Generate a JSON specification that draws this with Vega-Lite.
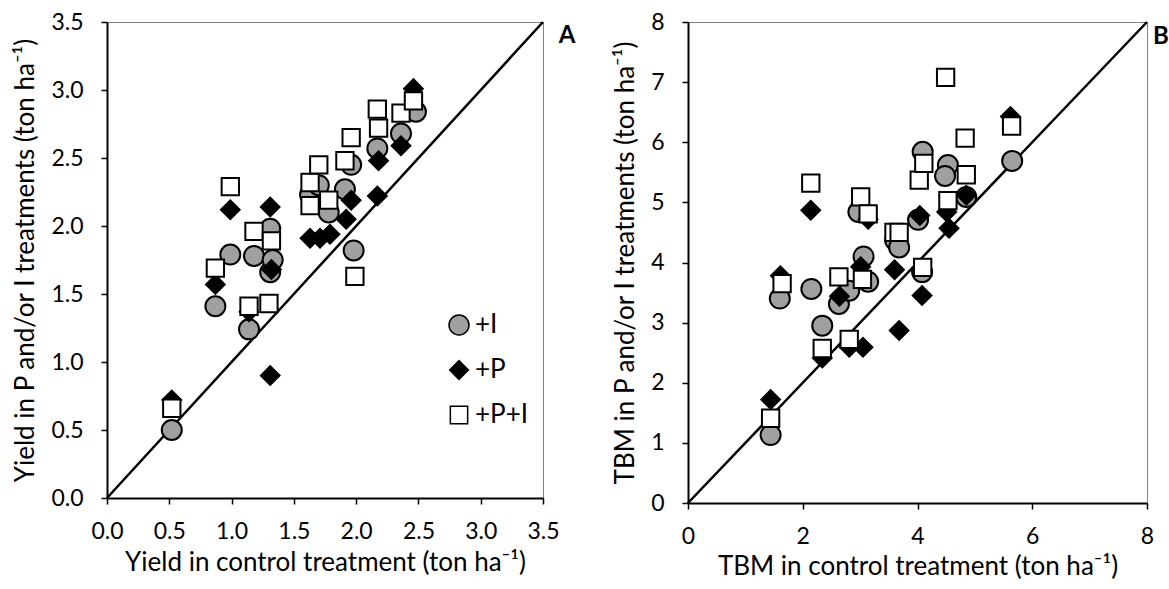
{
  "$schema": "https://vega.github.io/schema/vega-lite/v6.json",
  "background": "white",
  "padding": {"left": 12, "top": 10, "right": 5, "bottom": 0},
  "spacing": 36,
  "datasets": {
    "yield": [
      {"treatment": "+I", "control": 0.52, "treated": 0.50},
      {"treatment": "+I", "control": 0.87, "treated": 1.41},
      {"treatment": "+I", "control": 0.99, "treated": 1.79},
      {"treatment": "+I", "control": 1.14, "treated": 1.24},
      {"treatment": "+I", "control": 1.18, "treated": 1.78},
      {"treatment": "+I", "control": 1.31, "treated": 1.98},
      {"treatment": "+I", "control": 1.31, "treated": 1.66},
      {"treatment": "+I", "control": 1.33, "treated": 1.75},
      {"treatment": "+I", "control": 1.63, "treated": 2.23},
      {"treatment": "+I", "control": 1.70, "treated": 2.30},
      {"treatment": "+I", "control": 1.78, "treated": 2.10},
      {"treatment": "+I", "control": 1.91, "treated": 2.27},
      {"treatment": "+I", "control": 1.96, "treated": 2.45},
      {"treatment": "+I", "control": 1.98, "treated": 1.82},
      {"treatment": "+I", "control": 2.17, "treated": 2.57},
      {"treatment": "+I", "control": 2.36, "treated": 2.68},
      {"treatment": "+I", "control": 2.48, "treated": 2.84},
      {"treatment": "+P", "control": 0.52, "treated": 0.72},
      {"treatment": "+P", "control": 0.87, "treated": 1.57},
      {"treatment": "+P", "control": 0.99, "treated": 2.12},
      {"treatment": "+P", "control": 1.14, "treated": 1.37},
      {"treatment": "+P", "control": 1.31, "treated": 2.14},
      {"treatment": "+P", "control": 1.31, "treated": 0.90},
      {"treatment": "+P", "control": 1.32, "treated": 1.68},
      {"treatment": "+P", "control": 1.63, "treated": 1.91},
      {"treatment": "+P", "control": 1.71, "treated": 1.91},
      {"treatment": "+P", "control": 1.79, "treated": 1.94},
      {"treatment": "+P", "control": 1.92, "treated": 2.05},
      {"treatment": "+P", "control": 1.96, "treated": 2.19},
      {"treatment": "+P", "control": 2.17, "treated": 2.22},
      {"treatment": "+P", "control": 2.18, "treated": 2.48},
      {"treatment": "+P", "control": 2.36, "treated": 2.59},
      {"treatment": "+P", "control": 2.46, "treated": 3.01},
      {"treatment": "+P+I", "control": 0.52, "treated": 0.66},
      {"treatment": "+P+I", "control": 0.87, "treated": 1.69},
      {"treatment": "+P+I", "control": 0.99, "treated": 2.29},
      {"treatment": "+P+I", "control": 1.14, "treated": 1.41},
      {"treatment": "+P+I", "control": 1.18, "treated": 1.96},
      {"treatment": "+P+I", "control": 1.30, "treated": 1.43},
      {"treatment": "+P+I", "control": 1.32, "treated": 1.89},
      {"treatment": "+P+I", "control": 1.63, "treated": 2.32},
      {"treatment": "+P+I", "control": 1.63, "treated": 2.15},
      {"treatment": "+P+I", "control": 1.70, "treated": 2.45},
      {"treatment": "+P+I", "control": 1.78, "treated": 2.19},
      {"treatment": "+P+I", "control": 1.91, "treated": 2.48},
      {"treatment": "+P+I", "control": 1.96, "treated": 2.65},
      {"treatment": "+P+I", "control": 1.99, "treated": 1.63},
      {"treatment": "+P+I", "control": 2.17, "treated": 2.86},
      {"treatment": "+P+I", "control": 2.18, "treated": 2.72},
      {"treatment": "+P+I", "control": 2.36, "treated": 2.83},
      {"treatment": "+P+I", "control": 2.46, "treated": 2.92}
    ],
    "tbm": [
      {"treatment": "+I", "control": 1.44, "treated": 1.13},
      {"treatment": "+I", "control": 1.60, "treated": 3.40},
      {"treatment": "+I", "control": 2.15, "treated": 3.56},
      {"treatment": "+I", "control": 2.34, "treated": 2.95},
      {"treatment": "+I", "control": 2.63, "treated": 3.31},
      {"treatment": "+I", "control": 2.81, "treated": 3.53},
      {"treatment": "+I", "control": 2.97, "treated": 4.84},
      {"treatment": "+I", "control": 3.06, "treated": 4.10},
      {"treatment": "+I", "control": 3.14, "treated": 3.68},
      {"treatment": "+I", "control": 3.61, "treated": 4.37},
      {"treatment": "+I", "control": 3.68, "treated": 4.25},
      {"treatment": "+I", "control": 4.01, "treated": 4.71},
      {"treatment": "+I", "control": 4.09, "treated": 5.84},
      {"treatment": "+I", "control": 4.08, "treated": 3.84},
      {"treatment": "+I", "control": 4.53, "treated": 5.62},
      {"treatment": "+I", "control": 4.48, "treated": 5.44},
      {"treatment": "+I", "control": 4.85, "treated": 5.09},
      {"treatment": "+I", "control": 5.65, "treated": 5.69},
      {"treatment": "+P", "control": 1.44, "treated": 1.72},
      {"treatment": "+P", "control": 1.61, "treated": 3.78},
      {"treatment": "+P", "control": 2.14, "treated": 4.87},
      {"treatment": "+P", "control": 2.34, "treated": 2.41},
      {"treatment": "+P", "control": 2.64, "treated": 3.44},
      {"treatment": "+P", "control": 2.81, "treated": 2.59},
      {"treatment": "+P", "control": 3.05, "treated": 2.59},
      {"treatment": "+P", "control": 3.01, "treated": 3.93},
      {"treatment": "+P", "control": 3.14, "treated": 4.72},
      {"treatment": "+P", "control": 3.60, "treated": 3.88},
      {"treatment": "+P", "control": 3.68, "treated": 2.87},
      {"treatment": "+P", "control": 4.04, "treated": 4.78},
      {"treatment": "+P", "control": 4.08, "treated": 3.45},
      {"treatment": "+P", "control": 4.55, "treated": 4.57},
      {"treatment": "+P", "control": 4.51, "treated": 4.84},
      {"treatment": "+P", "control": 4.85, "treated": 5.12},
      {"treatment": "+P", "control": 5.62, "treated": 6.43},
      {"treatment": "+P+I", "control": 1.44, "treated": 1.41},
      {"treatment": "+P+I", "control": 1.64, "treated": 3.65},
      {"treatment": "+P+I", "control": 2.14, "treated": 5.32},
      {"treatment": "+P+I", "control": 2.34, "treated": 2.57},
      {"treatment": "+P+I", "control": 2.63, "treated": 3.76},
      {"treatment": "+P+I", "control": 2.81, "treated": 2.72},
      {"treatment": "+P+I", "control": 3.01, "treated": 5.09},
      {"treatment": "+P+I", "control": 3.04, "treated": 3.72},
      {"treatment": "+P+I", "control": 3.14, "treated": 4.81},
      {"treatment": "+P+I", "control": 3.59, "treated": 4.50},
      {"treatment": "+P+I", "control": 3.68, "treated": 4.50},
      {"treatment": "+P+I", "control": 4.03, "treated": 5.37},
      {"treatment": "+P+I", "control": 4.09, "treated": 3.92},
      {"treatment": "+P+I", "control": 4.11, "treated": 5.65},
      {"treatment": "+P+I", "control": 4.49, "treated": 7.08},
      {"treatment": "+P+I", "control": 4.53, "treated": 5.03},
      {"treatment": "+P+I", "control": 4.83, "treated": 6.07},
      {"treatment": "+P+I", "control": 4.85, "treated": 5.46},
      {"treatment": "+P+I", "control": 5.64, "treated": 6.27}
    ],
    "diagA": [{"control": 0, "treated": 0}, {"control": 3.5, "treated": 3.5}],
    "diagB": [{"control": 0, "treated": 0}, {"control": 8, "treated": 8}],
    "labelA": [{"control": 3.5, "treated": 3.5, "panel": "A"}],
    "labelB": [{"control": 8, "treated": 8, "panel": "B"}]
  },
  "config": {
    "font": "Lato",
    "view": {"stroke": "#808080", "strokeWidth": 1},
    "axis": {
      "grid": false,
      "domainColor": "black",
      "domainWidth": 2,
      "tickColor": "black",
      "tickWidth": 1.5,
      "tickSize": 6,
      "labelFont": "Lato",
      "labelFontSize": 23,
      "labelColor": "black",
      "labelFlush": false,
      "labelOverlap": false,
      "titleFont": "Lato",
      "titleFontSize": 26,
      "titleFontWeight": "normal",
      "titleColor": "black"
    },
    "axisX": {"labelPadding": 16, "titlePadding": 6},
    "axisY": {"labelPadding": 18, "titlePadding": 12},
    "legend": {
      "labelFont": "Lato",
      "labelFontSize": 26,
      "labelColor": "black",
      "rowPadding": 19,
      "labelOffset": 3,
      "symbolOpacity": 1
    }
  },
  "resolve": {"scale": {"x": "independent", "y": "independent"}},
  "hconcat": [
    {
      "width": 436,
      "height": 476,
      "layer": [
        {
          "data": {"name": "diagA"},
          "mark": {"type": "line", "color": "black", "strokeWidth": 2.5},
          "encoding": {
            "x": {"field": "control", "type": "quantitative"},
            "y": {"field": "treated", "type": "quantitative"}
          }
        },
        {
          "data": {"name": "yield"},
          "mark": {"type": "point", "filled": true, "stroke": "black", "strokeWidth": 2, "opacity": 1},
          "encoding": {
            "x": {
              "field": "control", "type": "quantitative",
              "scale": {"domain": [0, 3.5], "nice": false, "zero": true},
              "axis": {"values": [0, 0.5, 1, 1.5, 2, 2.5, 3, 3.5], "format": ".1f", "title": "Yield in control treatment (ton ha⁻¹)"}
            },
            "y": {
              "field": "treated", "type": "quantitative",
              "scale": {"domain": [0, 3.5], "nice": false, "zero": true},
              "axis": {"values": [0, 0.5, 1, 1.5, 2, 2.5, 3, 3.5], "format": ".1f", "title": "Yield in P and/or I treatments (ton ha⁻¹)"}
            },
            "shape": {
              "field": "treatment", "type": "nominal",
              "scale": {"domain": ["+I", "+P", "+P+I"], "range": ["circle", "diamond", "square"]},
              "legend": {"orient": "none", "legendX": 339, "legendY": 290, "title": null,
                "encode": {"symbols": {"update": {"stroke": {"value": "black"}, "strokeWidth": {"value": 2}}}}}
            },
            "fill": {
              "field": "treatment", "type": "nominal",
              "scale": {"domain": ["+I", "+P", "+P+I"], "range": ["#a0a0a0", "black", "white"]},
              "legend": {"orient": "none", "legendX": 339, "legendY": 290, "title": null,
                "encode": {"symbols": {"update": {"stroke": {"value": "black"}, "strokeWidth": {"value": 2}}}}}
            },
            "size": {
              "field": "treatment", "type": "nominal",
              "scale": {"domain": ["+I", "+P", "+P+I"], "range": [400, 300, 400]},
              "legend": {"orient": "none", "legendX": 339, "legendY": 290, "title": null,
                "encode": {"symbols": {"update": {"stroke": {"value": "black"}, "strokeWidth": {"value": 2}}}}}
            }
          }
        },
        {
          "data": {"name": "labelA"},
          "mark": {"type": "text", "fontWeight": "bold", "fontSize": 24, "font": "Lato", "align": "center", "baseline": "middle", "dx": 24, "dy": 14, "color": "black"},
          "encoding": {
            "x": {"field": "control", "type": "quantitative"},
            "y": {"field": "treated", "type": "quantitative"},
            "text": {"field": "panel"}
          }
        }
      ]
    },
    {
      "width": 459,
      "height": 481,
      "layer": [
        {
          "data": {"name": "diagB"},
          "mark": {"type": "line", "color": "black", "strokeWidth": 2.5},
          "encoding": {
            "x": {"field": "control", "type": "quantitative"},
            "y": {"field": "treated", "type": "quantitative"}
          }
        },
        {
          "data": {"name": "tbm"},
          "mark": {"type": "point", "filled": true, "stroke": "black", "strokeWidth": 2, "opacity": 1},
          "encoding": {
            "x": {
              "field": "control", "type": "quantitative",
              "scale": {"domain": [0, 8], "nice": false, "zero": true},
              "axis": {"values": [0, 2, 4, 6, 8], "format": "d", "title": "TBM in control treatment (ton ha⁻¹)", "labelPadding": 16, "titlePadding": 5}
            },
            "y": {
              "field": "treated", "type": "quantitative",
              "scale": {"domain": [0, 8], "nice": false, "zero": true},
              "axis": {"values": [0, 1, 2, 3, 4, 5, 6, 7, 8], "format": "d", "title": "TBM in P and/or I treatments (ton ha⁻¹)"}
            },
            "shape": {
              "field": "treatment", "type": "nominal",
              "scale": {"domain": ["+I", "+P", "+P+I"], "range": ["circle", "diamond", "square"]},
              "legend": {"orient": "none", "legendX": 357, "legendY": 279, "title": null,
                "encode": {"symbols": {"update": {"stroke": {"value": "black"}, "strokeWidth": {"value": 2}}}}}
            },
            "fill": {
              "field": "treatment", "type": "nominal",
              "scale": {"domain": ["+I", "+P", "+P+I"], "range": ["#a0a0a0", "black", "white"]},
              "legend": {"orient": "none", "legendX": 357, "legendY": 279, "title": null,
                "encode": {"symbols": {"update": {"stroke": {"value": "black"}, "strokeWidth": {"value": 2}}}}}
            },
            "size": {
              "field": "treatment", "type": "nominal",
              "scale": {"domain": ["+I", "+P", "+P+I"], "range": [400, 300, 400]},
              "legend": {"orient": "none", "legendX": 357, "legendY": 279, "title": null,
                "encode": {"symbols": {"update": {"stroke": {"value": "black"}, "strokeWidth": {"value": 2}}}}}
            }
          }
        },
        {
          "data": {"name": "labelB"},
          "mark": {"type": "text", "fontWeight": "bold", "fontSize": 24, "font": "Lato", "align": "center", "baseline": "middle", "dx": 14, "dy": 15, "color": "black"},
          "encoding": {
            "x": {"field": "control", "type": "quantitative"},
            "y": {"field": "treated", "type": "quantitative"},
            "text": {"field": "panel"}
          }
        }
      ]
    }
  ]
}
